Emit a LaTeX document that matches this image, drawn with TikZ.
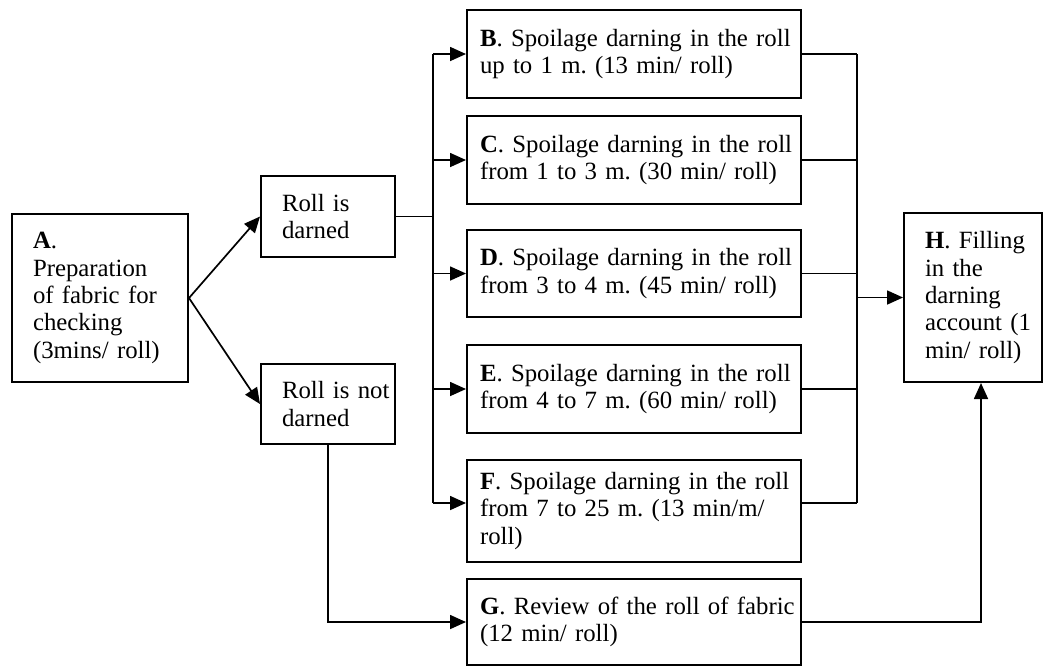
\documentclass[tikz,border=0pt]{standalone}
\usepackage{fontspec}
\setmainfont{Liberation Serif}
\usetikzlibrary{arrows.meta}
\frenchspacing

\begin{document}
\begin{tikzpicture}[x=0.5pt, y=-0.5pt,
  every node/.style={font=\fontsize{12.4}{13.7}\selectfont},
  box/.style={draw, line width=1pt, inner sep=0pt, anchor=north west, align=left},
  pad/.style={execute at begin node={\leftskip=#1\relax}},
  spoil/.style={box, pad=6.5pt, text width=167pt, minimum height=#1},
  flow/.style={line width=0.85pt},
  arr/.style={flow, -{Triangle[length=8pt, width=7pt]}}]
\useasboundingbox (0,0) rectangle (1044,666);

% Start and the two outcomes
\node[box, pad=10.5pt, text width=88pt, minimum height=84pt] (A) at (11,213)
  {\textbf{A}.\\Preparation\\of fabric for\\checking\\(3mins/ roll)};
\node[box, pad=10.5pt, text width=67pt, minimum height=40.5pt] (Rd) at (260,175) {Roll is\\darned};
\node[box, pad=10.5pt, text width=67pt, minimum height=40pt] (Rnd) at (260,363) {Roll is not\\darned};

% Spoilage darning
\node[spoil=44pt] (B) at (466,9) {\textbf{B}. Spoilage darning in the roll\\up to 1 m. (13 min/ roll)};
\node[spoil=44pt] (C) at (466,115) {\textbf{C}. Spoilage darning in the roll\\from 1 to 3 m. (30 min/ roll)};
\node[spoil=43.5pt] (D) at (466,229) {\textbf{D}. Spoilage darning in the roll\\from 3 to 4 m. (45 min/ roll)};
\node[spoil=44pt] (E) at (466,344) {\textbf{E}. Spoilage darning in the roll\\from 4 to 7 m. (60 min/ roll)};
\node[spoil=51pt] (F) at (466,459) {\textbf{F}. Spoilage darning in the roll\\from 7 to 25 m. (13 min/m/\\roll)};
\node[spoil=43pt] (G) at (466,578) {\textbf{G}. Review of the roll of fabric\\(12 min/ roll)};

% Account
\node[box, pad=10.5pt, text width=69pt, minimum height=84.5pt] (H) at (903,212)
  {\textbf{H}. Filling\\in the\\darning\\account (1\\min/ roll)};

% Buses
\coordinate (busL) at (433,0);
\coordinate (busR) at (857,0);
\coordinate (Fin) at ([yshift=4pt]F.west);
\coordinate (Fout) at ([yshift=4pt]F.east);
\coordinate (Hin) at ([xshift=4pt]H.south);

\draw[arr] (A.east) -- (Rd.west);
\draw[arr] (A.east) -- (Rnd.west);
\draw[flow] (Rd.east) -- (Rd.east -| busL);
\draw[flow] (B.west -| busL) -- (Fin -| busL);
\foreach \p in {B.west, C.west, D.west, E.west, Fin}
  \draw[arr] (\p -| busL) -- (\p);

\foreach \p in {B.east, C.east, D.east, E.east, Fout}
  \draw[flow] (\p) -- (\p -| busR);
\draw[flow] (B.east -| busR) -- (Fout -| busR);
\draw[arr] (H.west -| busR) -- (H.west);

% Not darned: review
\draw[arr] (Rnd.south) |- (G.west);
\draw[arr] (G.east) -| (Hin);
\end{tikzpicture}
\end{document}
